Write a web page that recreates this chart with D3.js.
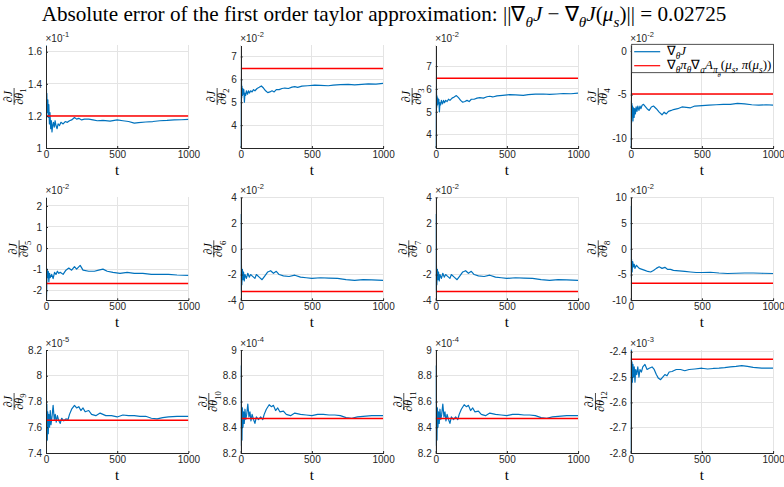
<!DOCTYPE html>
<html>
<head>
<meta charset="utf-8">
<script src="https://cdn.jsdelivr.net/npm/d3@7"></script>
<style>
  body { margin: 0; background: #fff; }
</style>
</head>
<body>
<svg id="fig" width="784" height="487"></svg>
<script>
// Running gradient estimates (t, value) in units of the panel exponent.
const gradTheta1 = [[0,1.64],[2,1.45],[4,1.30],[6,1.34],[8,1.25],[10,1.22],[13,1.30],[16,1.19],[20,1.27],[24,1.15],[28,1.22],[33,1.12],[38,1.17],[42,1.10],[47,1.14],[52,1.16],[58,1.13],[64,1.17],[70,1.14],[78,1.12],[85,1.15],[95,1.14],[105,1.16],[120,1.15],[135,1.165],[150,1.16],[165,1.17],[180,1.175],[200,1.19],[215,1.18],[230,1.185],[250,1.175],[270,1.18],[300,1.18],[330,1.175],[360,1.17],[400,1.172],[450,1.168],[500,1.175],[540,1.17],[580,1.165],[620,1.155],[650,1.158],[700,1.162],[750,1.165],[800,1.17],[850,1.172],[900,1.175],[950,1.176],[1000,1.178]];

const gradTheta2 = [[0,3.0],[1,4.5],[3,5.6],[5,6.1],[7,5.2],[9,5.7],[12,5.3],[15,5.6],[18,5.35],[22,5.55],[26,5.0],[30,5.4],[35,5.3],[40,5.5],[48,5.35],[55,5.5],[62,5.4],[70,5.5],[80,5.45],[90,5.55],[100,5.5],[115,5.6],[130,5.65],[145,5.71],[160,5.62],[175,5.5],[190,5.42],[205,5.45],[220,5.5],[235,5.45],[250,5.55],[270,5.55],[290,5.6],[310,5.62],[335,5.6],[360,5.66],[380,5.68],[400,5.65],[430,5.7],[470,5.72],[520,5.75],[560,5.74],[615,5.72],[650,5.75],[700,5.77],[755,5.78],[800,5.76],[850,5.78],[896,5.8],[950,5.79],[1000,5.82]];

const gradTheta4 = [[0,-11.1],[2,-8],[4,-5.7],[6,-8.2],[8,-6.0],[10,-7.5],[13,-6.3],[16,-8.0],[20,-6.5],[24,-7.6],[28,-6.6],[33,-7.2],[38,-6.4],[44,-6.9],[50,-6.3],[58,-6.8],[65,-6.3],[72,-6.6],[80,-6.2],[90,-6.1],[100,-6.3],[115,-6.6],[130,-6.8],[145,-6.4],[160,-6.3],[180,-6.6],[200,-7.0],[220,-7.3],[235,-7.0],[250,-7.2],[265,-6.9],[285,-6.8],[300,-6.7],[330,-6.6],[360,-6.4],[390,-6.45],[420,-6.5],[450,-6.3],[500,-6.25],[550,-6.2],[600,-6.15],[650,-6.1],[700,-6.1],[750,-6.0],[800,-6.05],[850,-6.15],[900,-6.2],[950,-6.15],[1000,-6.2]];

const gradTheta5 = [[0,2.4],[3,-2.5],[8,-1.0],[12,-1.4],[16,-1.1],[20,-1.6],[25,-1.2],[30,-1.4],[40,-1.25],[50,-1.45],[60,-1.15],[70,-1.25],[80,-1.1],[90,-1.2],[100,-1.15],[120,-1.25],[140,-1.05],[160,-0.95],[180,-1.05],[200,-0.88],[215,-1.0],[240,-0.82],[260,-1.05],[300,-1.1],[340,-1.1],[370,-1.05],[400,-1.0],[430,-1.1],[470,-1.15],[520,-1.2],[570,-1.15],[620,-1.2],[680,-1.2],[740,-1.25],[800,-1.25],[860,-1.25],[920,-1.28],[1000,-1.3]];

const gradTheta6 = [[0,2.7],[2,-3.2],[5,-1.2],[8,-2.8],[12,-1.6],[16,-2.4],[20,-1.8],[25,-2.5],[30,-2.0],[40,-2.3],[50,-1.9],[60,-2.2],[70,-2.0],[80,-2.1],[100,-2.3],[110,-2.0],[130,-2.2],[150,-2.4],[170,-2.1],[190,-1.8],[210,-1.7],[230,-1.9],[250,-1.75],[270,-2.0],[300,-2.1],[340,-2.15],[380,-2.05],[420,-2.2],[460,-2.25],[500,-2.3],[560,-2.25],[620,-2.28],[680,-2.3],[740,-2.4],[800,-2.45],[860,-2.4],[920,-2.42],[1000,-2.45]];

const gradTheta8 = [[0,8.3],[3,-5.5],[6,-2.0],[10,-4.5],[14,-2.5],[20,-3.5],[25,-3.0],[30,-3.8],[40,-3.2],[50,-3.5],[60,-3.8],[80,-4.0],[100,-4.2],[120,-4.4],[140,-4.5],[160,-4.2],[180,-3.8],[200,-3.5],[220,-3.8],[240,-3.6],[260,-4.0],[280,-4.0],[300,-4.2],[340,-4.3],[380,-4.4],[420,-4.5],[460,-4.6],[500,-4.6],[560,-4.55],[620,-4.7],[680,-4.8],[740,-4.75],[800,-4.7],[860,-4.7],[920,-4.75],[1000,-4.8]];

const gradTheta9 = [[0,8.08],[3,7.47],[6,7.78],[9,7.5],[12,7.72],[16,7.55],[20,7.7],[25,7.6],[30,7.73],[35,7.62],[42,7.68],[50,7.77],[58,7.66],[65,7.7],[72,7.64],[80,7.69],[90,7.65],[100,7.63],[110,7.67],[125,7.65],[140,7.665],[155,7.66],[165,7.7],[180,7.74],[200,7.77],[215,7.75],[230,7.76],[245,7.73],[260,7.75],[275,7.72],[300,7.73],[320,7.70],[350,7.69],[380,7.71],[420,7.69],[460,7.69],[500,7.68],[540,7.695],[580,7.69],[620,7.69],[660,7.685],[700,7.685],[740,7.67],[780,7.665],[820,7.675],[860,7.68],[920,7.685],[1000,7.685]];

const gradTheta10 = [[0,8.88],[3,8.26],[6,8.56],[9,8.3],[12,8.55],[16,8.4],[20,8.52],[25,8.43],[30,8.54],[36,8.46],[42,8.5],[50,8.58],[58,8.48],[65,8.52],[72,8.45],[80,8.5],[90,8.46],[100,8.43],[110,8.48],[125,8.46],[140,8.48],[155,8.46],[165,8.5],[180,8.54],[200,8.575],[215,8.56],[230,8.57],[245,8.53],[260,8.55],[275,8.52],[300,8.525],[320,8.5],[350,8.49],[380,8.51],[420,8.5],[460,8.495],[500,8.49],[540,8.5],[580,8.5],[620,8.495],[660,8.495],[700,8.49],[740,8.475],[780,8.47],[820,8.48],[860,8.485],[920,8.49],[1000,8.49]];

const gradTheta12 = [[0,-2.8],[2,-2.42],[4,-2.39],[6,-2.55],[9,-2.44],[12,-2.52],[16,-2.45],[20,-2.5],[25,-2.46],[30,-2.52],[35,-2.47],[42,-2.49],[50,-2.46],[58,-2.5],[65,-2.47],[75,-2.48],[85,-2.46],[100,-2.45],[115,-2.47],[130,-2.465],[150,-2.46],[165,-2.47],[180,-2.49],[195,-2.505],[210,-2.51],[225,-2.5],[240,-2.49],[255,-2.495],[270,-2.48],[290,-2.478],[320,-2.47],[350,-2.47],[380,-2.475],[410,-2.47],[450,-2.468],[500,-2.465],[540,-2.468],[580,-2.466],[620,-2.465],[660,-2.463],[700,-2.46],[740,-2.458],[780,-2.455],[820,-2.458],[860,-2.462],[920,-2.465],[1000,-2.465]];

// Panel order theta_1 .. theta_12 (identical estimates share an array)
const gradSeries = [gradTheta1, gradTheta2, gradTheta2, gradTheta4,
                    gradTheta5, gradTheta6, gradTheta6, gradTheta8,
                    gradTheta9, gradTheta10, gradTheta10, gradTheta12];

// Linearised gradient (first order taylor term), one level per parameter
const taylorLevels = [1.2, 6.47, 6.47, -4.93, -1.68, -3.32, -3.32, -6.7, 7.655, 8.468, 8.468, -2.43];

const exponents = [-1, -2, -2, -2, -2, -2, -2, -2, -5, -4, -4, -3];

const yLimits = [[1, 1.642], [3, 7.5], [3.42, 7.92], [-11.1, 0.69],
                 [-2.48, 2.41], [-4, 4], [-4, 4], [-10, 10],
                 [7.4, 8.2], [8.2, 9], [8.2, 9], [-2.8, -2.393]];

const yTickValues = [[1, 1.2, 1.4, 1.6], [4, 5, 6, 7], [4, 5, 6, 7], [-10, -5, 0],
                     [-2, -1, 0, 1, 2], [-4, -2, 0, 2, 4], [-4, -2, 0, 2, 4], [-10, -5, 0, 5, 10],
                     [7.4, 7.6, 7.8, 8, 8.2], [8.2, 8.4, 8.6, 8.8, 9], [8.2, 8.4, 8.6, 8.8, 9], [-2.8, -2.7, -2.6, -2.5, -2.4]];

const xTickValues = [0, 500, 1000];
const tDomain = [0, 1000];

// ---- layout ----
const W = 784, H = 487;
const colLeft = [46, 240.7, 435.7, 630.7];
const rowTop = [45, 197.3, 350];
const axW = 142.4, axH = 103;
const AX = "#262626", GRID = "#e4e4e4", BLUE = "#0072BD", RED = "#ff0000";
const SANS = "Liberation Sans";
const SERIF = "Liberation Serif";

const fig = d3.select("#fig");
fig.append("rect").attr("width", W).attr("height", H).attr("fill", "#fff");
const defs = fig.append("defs");

// rich text helper: tokens {s, sub (level), it}
function rich(textSel, tokens, size) {
  textSel.style("font-family", SERIF);
  let prev = 0;
  tokens.forEach(tk => {
    const lvl = tk.sub || 0;
    const shift = lvl * size * 0.28;
    const ts = textSel.append("tspan")
      .attr("dy", (shift - prev).toFixed(2))
      .attr("font-size", (size * Math.pow(0.72, lvl)).toFixed(2))
      .style("font-family", SERIF)
      .text(tk.s);
    if (tk.it) ts.attr("font-style", "italic");
    prev = shift;
  });
  return textSel;
}

// scale rich texts by one factor so the first one is `target` wide
function fitWidth(texts, target) {
  const w = texts[0].node().getComputedTextLength();
  if (!(w > 0)) return;
  const k = target / w;
  texts.forEach(t => t.selectAll("tspan").each(function () {
    const s = d3.select(this);
    s.attr("font-size", (+s.attr("font-size") * k).toFixed(2));
    s.attr("dy", (+s.attr("dy") * k).toFixed(2));
  }));
}

const fmt = v => String(+v.toFixed(3)).replace("\u2212", "-");

gradSeries.forEach((series, i) => {
  const col = i % 4, row = Math.floor(i / 4);
  const x0 = colLeft[col], y0 = rowTop[row];
  const x = d3.scaleLinear().domain(tDomain).range([x0, x0 + axW]);
  const y = d3.scaleLinear().domain(yLimits[i]).range([y0 + axH, y0]);
  const g = fig.append("g");

  // grid
  g.append("g").selectAll("line").data(xTickValues).join("line")
    .attr("x1", d => x(d)).attr("x2", d => x(d))
    .attr("y1", y0).attr("y2", y0 + axH)
    .attr("stroke", GRID).attr("stroke-width", 1).attr("shape-rendering", "crispEdges");
  g.append("g").selectAll("line").data(yTickValues[i]).join("line")
    .attr("x1", x0).attr("x2", x0 + axW)
    .attr("y1", d => y(d)).attr("y2", d => y(d))
    .attr("stroke", GRID).attr("stroke-width", 1).attr("shape-rendering", "crispEdges");

  // data
  const clipId = "clip" + i;
  defs.append("clipPath").attr("id", clipId).append("rect")
    .attr("x", x0).attr("y", y0 - 0.5).attr("width", axW).attr("height", axH + 1);
  const plot = g.append("g").attr("clip-path", `url(#${clipId})`);
  plot.append("path").datum(series)
    .attr("d", d3.line().x(d => x(d[0])).y(d => y(d[1])))
    .attr("fill", "none").attr("stroke", BLUE).attr("stroke-width", 1.2)
    .attr("stroke-linejoin", "round");
  plot.append("line")
    .attr("x1", x(tDomain[0])).attr("x2", x(tDomain[1]))
    .attr("y1", y(taylorLevels[i])).attr("y2", y(taylorLevels[i]))
    .attr("stroke", RED).attr("stroke-width", 1.5);

  // axes
  const yAxis = g.append("g").attr("transform", `translate(${x0},0)`)
    .call(d3.axisLeft(y).tickValues(yTickValues[i]).tickFormat(fmt)
      .tickSizeInner(-2).tickSizeOuter(0).tickPadding(4));
  const xAxis = g.append("g").attr("transform", `translate(0,${y0 + axH})`)
    .call(d3.axisBottom(x).tickValues(xTickValues).tickFormat(d3.format("d"))
      .tickSizeInner(-2).tickSizeOuter(0).tickPadding(4));
  [yAxis, xAxis].forEach(a => {
    a.select(".domain").attr("stroke", AX).attr("stroke-width", 1).attr("shape-rendering", "crispEdges");
    a.selectAll(".tick line").attr("stroke", AX).attr("stroke-width", 1);
    a.selectAll(".tick text").attr("fill", AX).attr("font-size", 10).style("font-family", SANS);
  });
  xAxis.selectAll(".tick text").attr("dy", "0.6em");

  // widest y tick label
  let maxW = 0;
  yAxis.selectAll(".tick text").each(function () { maxW = Math.max(maxW, this.getComputedTextLength()); });

  // exponent
  const ex = g.append("text").attr("x", x0 - 0.5).attr("y", y0 - 3.5)
    .attr("fill", AX).attr("font-size", 10).style("font-family", SANS);
  ex.append("tspan").text("\u00d710");
  ex.append("tspan").attr("dy", -4.5).attr("font-size", 7.5).text(String(exponents[i]));

  // x label
  g.append("text").style("font-family", SERIF)
    .attr("x", x0 + axW / 2).attr("y", y0 + axH + 27)
    .attr("text-anchor", "middle").attr("font-size", 15).attr("fill", "#000").text("t");

  // y label: dJ / dtheta_i
  const lx = x0 - maxW - 18;
  const yl = g.append("g").attr("transform", `translate(${lx},${y0 + axH / 2}) rotate(-90)`);
  rich(yl.append("text").attr("text-anchor", "middle").attr("y", -2).attr("fill", "#000"),
    [{ s: "\u2202" }, { s: "J", it: true }], 12);
  rich(yl.append("text").attr("text-anchor", "middle").attr("y", 8.6).attr("fill", "#000"),
    [{ s: "\u2202" }, { s: "\u03b8", it: true }, { s: String(i + 1), sub: 1 }], 12);
  yl.append("line").attr("x1", -8.5).attr("x2", 8.5).attr("y1", 0).attr("y2", 0)
    .attr("stroke", "#000").attr("stroke-width", 0.7);

  // legend on the theta_4 panel
  if (i === 3) {
    const lg = g.append("g");
    lg.append("rect").attr("x", x0 + 1).attr("y", y0 - 0.7).attr("width", axW - 0.6).attr("height", 28.4)
      .attr("fill", "#fff").attr("stroke", AX).attr("stroke-width", 0.8);
    const rows = [
      { c: BLUE, tk: [{ s: "\u2207" }, { s: "\u03b8", it: true, sub: 1 }, { s: "J", it: true }] },
      { c: RED, tk: [{ s: "\u2207" }, { s: "\u03b8", it: true, sub: 1 }, { s: "\u03c0", it: true }, { s: "\u03b8", it: true, sub: 1 },
        { s: "\u2207" }, { s: "a", it: true, sub: 1 }, { s: "A", it: true }, { s: "\u03c0", it: true, sub: 1 }, { s: "\u03b8", it: true, sub: 2 },
        { s: "(" }, { s: "\u03bc", it: true }, { s: "s", it: true, sub: 1 }, { s: ", " }, { s: "\u03c0", it: true }, { s: "(" },
        { s: "\u03bc", it: true }, { s: "s", it: true, sub: 1 }, { s: "))" }] }
    ];
    const texts = [];
    rows.forEach((r, k) => {
      const ly = y0 + 6.7 + k * 14;
      lg.append("line").attr("x1", x0 + 3.5).attr("x2", x0 + 29.5).attr("y1", ly).attr("y2", ly)
        .attr("stroke", r.c).attr("stroke-width", 1.2);
      texts.push(rich(lg.append("text").attr("x", x0 + 36).attr("y", ly + 3.6).attr("fill", "#000"),
        r.tk, 11));
    });
    fitWidth([texts[1], texts[0]], 103);
  }
});

// figure title
const title = fig.append("text").attr("x", 384).attr("y", 21)
  .attr("text-anchor", "middle").attr("fill", "#000");
rich(title, [
  { s: "Absolute error of the first order taylor approximation: ||\u2207" },
  { s: "\u03b8", it: true, sub: 1 }, { s: "J", it: true }, { s: " \u2212 \u2207" },
  { s: "\u03b8", it: true, sub: 1 }, { s: "J", it: true }, { s: "(" },
  { s: "\u03bc", it: true }, { s: "s", it: true, sub: 1 }, { s: ")|| = 0.02725" }
], 18);
fitWidth([title], 685);
</script>
</body>
</html>
